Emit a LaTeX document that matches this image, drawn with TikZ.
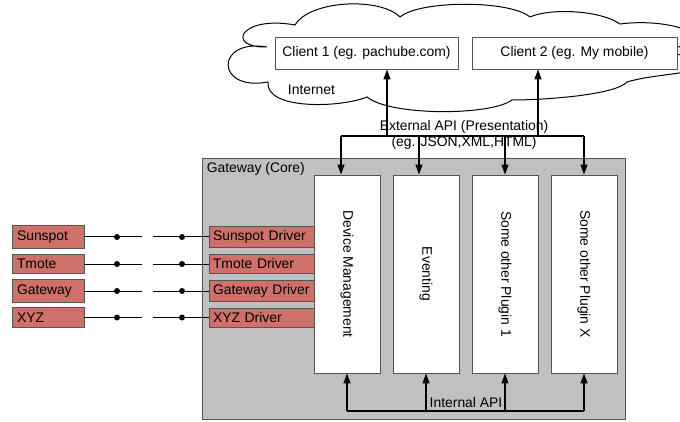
\documentclass[tikz,border=0pt]{standalone}
\usepackage{fontspec}
\setmainfont{Liberation Sans}
\usepackage{graphicx}
\usetikzlibrary{arrows.meta,calc}
\definecolor{devred}{RGB}{207,112,106}
\definecolor{gwgray}{RGB}{192,192,192}
\definecolor{edgegray}{RGB}{85,85,85}
\begin{document}
\begin{tikzpicture}[x=1pt,y=-1pt,
  font=\fontsize{13.9}{16}\selectfont, text=black,
  box/.style={draw=edgegray, line width=0.9pt, inner sep=0pt},
  client/.style={box, fill=white, minimum height=32pt},
  plugin/.style={box, fill=white, minimum width=66pt, minimum height=198pt},
  dev/.style={box, fill=devred, minimum height=18pt, inner sep=5pt, text width=62pt, align=left},
  drv/.style={box, fill=devred, minimum height=19pt, inner sep=4pt, text width=98pt, align=left},
  gwbox/.style={box, fill=gwgray, minimum width=423pt, minimum height=261pt},
  conn/.style={line width=1.2pt},
  thinconn/.style={line width=1pt},
  arr/.style={conn, -{Triangle[length=10pt,width=7pt]}},
  dotmark/.style={circle, fill=black, inner sep=0pt, minimum size=6pt},
  cloudline/.style={draw=black, line width=1pt, fill=white}
]
\useasboundingbox (0,0) rectangle (680,422);
\clip (0,0) rectangle (680,422);

% cloud
\path[cloudline] (267,47) .. controls (225,48) and (240,15) .. (295,25)
  .. controls (310,0) and (380,-3) .. (400,17)
  .. controls (420,0) and (510,0) .. (530,17)
  .. controls (550,8) and (600,10) .. (620,24)
  .. controls (650,20) and (690,25) .. (700,40)
  -- (663,52) -- (700,58)
  .. controls (715,75) and (660,72) .. (627,82)
  .. controls (615,95) and (545,100) .. (512,100)
  .. controls (490,116) and (390,116) .. (367,97)
  .. controls (340,108) and (265,110) .. (268,82)
  .. controls (215,92) and (215,38) .. cycle;

\node[client, minimum width=183pt] (c1) at (366.5,53) {Client 1 (eg. pachube.com)};
\node[client, minimum width=205pt] (c2) at (574.5,53) {Client 2 (eg. My mobile)};
\node (inet) at (311.5,90) {Internet};

% gateway
\node[gwbox] (gw) at (413.5,288.5) {};
\node[anchor=north west, inner sep=0pt] (gwlbl) at ($(gw.north west)+(5,5)$) {Gateway (Core)};

% devices and drivers
\foreach \i/\y/\n in {1/237/Sunspot,2/264/Tmote,3/291/Gateway,4/317.5/XYZ} {
  \node[dev] (d\i) at (48,\y) {\n};
  \node[drv] (r\i) at (262,\y) {\n\ Driver};
  \coordinate (a\i) at (142,\y);
  \coordinate (b\i) at (153,\y);
  \draw[thinconn] (d\i) -- (a\i);
  \draw[thinconn] (b\i) -- (r\i);
  \node[dotmark] (pa\i) at (117,\y) {};
  \node[dotmark] (pb\i) at (182,\y) {};
}

% plugins
\node[plugin] (dm) at (347,274) {\rotatebox{-90}{Device Management}};
\node[plugin] (ev) at (426,274) {\rotatebox{-90}{Eventing}};
\node[plugin] (p1) at (505,274) {\rotatebox{-90}{Some other Plugin 1}};
\node[plugin] (px) at (584,274) {\rotatebox{-90}{Some other Plugin X}};

% external API
\coordinate (eL) at (341,136);
\coordinate (e2) at (419,136);
\coordinate (e3) at (505,136);
\coordinate (eR) at (584,136);
\coordinate (u1) at (387,136);
\coordinate (u2) at (538,136);
\draw[conn] (eL) -- (eR);
\draw[arr] (eL) -- (eL |- dm.north);
\draw[arr] (e2) -- (e2 |- ev.north);
\draw[arr] (e3) -- (e3 |- p1.north);
\draw[arr] (eR) -- (eR |- px.north);
\draw[arr] (u1) -- (u1 |- c1.south);
\draw[arr] (u2) -- (u2 |- c2.south);
\node[align=center] (extlbl) at (464,135) {External API (Presentation)\\(eg. JSON,XML,HTML)};

% internal API
\coordinate (iL) at (347,411);
\coordinate (i2) at (426,411);
\coordinate (i3) at (505,411);
\coordinate (iR) at (584,411);
\draw[conn] (iL) -- (iR);
\draw[arr] (iL) -- (dm.south);
\draw[arr] (i2) -- (ev.south);
\draw[arr] (i3) -- (p1.south);
\draw[arr] (iR) -- (px.south);
\node (intlbl) at (466,403) {Internal API};
\end{tikzpicture}
\end{document}
